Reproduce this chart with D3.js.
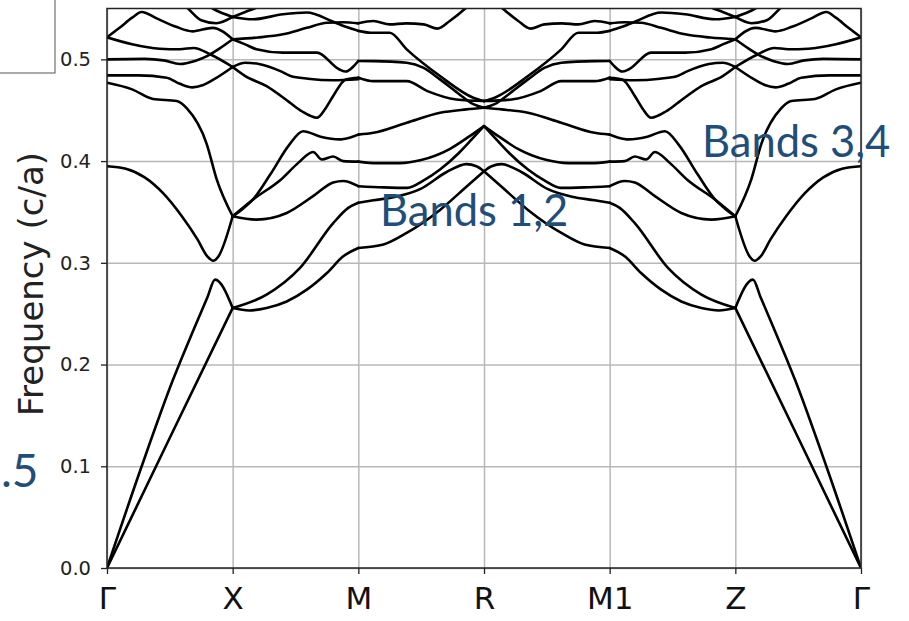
<!DOCTYPE html>
<html><head><meta charset="utf-8">
<script src="https://cdn.jsdelivr.net/npm/d3@7"></script>
<style>body{margin:0;background:#fff;overflow:hidden}</style>
</head><body>
<svg id="chart" width="909" height="621"></svg>
<script>
// k-path labels (equal spacing between high-symmetry points)
const kLabels = ["Γ", "X", "M", "R", "M1", "Z", "Γ"];
const freqTicks = [0.0, 0.1, 0.2, 0.3, 0.4, 0.5];

// Bands along Γ→X→M→R as [k, frequency (c/a)] pairs, k in segment units.
// The path R→M1→Z→Γ retraces the same directions, so it mirrors about R.
const band1 = [[0,0],[0.5,0.128],[1,0.2556],[1.27,0.2687],[1.536,0.295],[1.8,0.339],[1.92,0.354],[2,0.359],[2.12,0.3615],[2.3,0.365],[2.5,0.373],[2.7,0.389],[2.86,0.397],[2.94,0.395],[3,0.39]];
const band2 = [[0,0],[0.276,0.1],[0.525,0.185],[0.7,0.2375],[0.8,0.2665],[0.86,0.2835],[1,0.2556],[1.13,0.2532],[1.27,0.2556],[1.43,0.262],[1.59,0.2736],[1.75,0.29],[1.88,0.3064],[2,0.3146],[2.2,0.318],[2.385,0.3294],[2.65,0.352],[2.862,0.375],[3,0.39]];
const band3 = [[0,0.395],[0.15,0.3925],[0.3,0.384],[0.45,0.368],[0.6,0.345],[0.72,0.323],[0.8,0.306],[0.845,0.302],[0.885,0.306],[1,0.3458],[1.19,0.3425],[1.43,0.349],[1.64,0.3655],[1.8,0.379],[1.88,0.3805],[2,0.3753],[2.2,0.3742],[2.39,0.3737],[2.52,0.381],[2.65,0.3917],[2.8,0.408],[2.9,0.421],[3,0.4344]];
const band4 = [[0,0.477],[0.2,0.4705],[0.366,0.461],[0.555,0.459],[0.634,0.452],[0.793,0.417],[0.873,0.382],[1,0.3458],[1.16,0.362],[1.385,0.382],[1.52,0.398],[1.64,0.409],[1.71,0.4015],[1.8,0.4045],[1.88,0.4],[2,0.3995],[2.15,0.398],[2.33,0.398],[2.5,0.401],[2.73,0.412],[2.88,0.424],[3,0.4344]];
const band5 = [[1,0.3458],[1.08,0.353],[1.16,0.362],[1.3,0.387],[1.45,0.416],[1.56,0.4294],[1.7,0.424],[1.85,0.4213],[1.93,0.423],[2,0.426],[2.12,0.4278],[2.385,0.4377],[2.65,0.4475],[2.86,0.4508],[3,0.4524]];
const band6 = [[0,0.4843],[0.25,0.4843],[0.475,0.482],[0.58,0.476],[0.68,0.4725],[0.76,0.4745],[0.846,0.48],[1,0.4925],[1.1,0.4836],[1.27,0.4737],[1.45,0.458],[1.55,0.449],[1.67,0.4426],[1.74,0.452],[1.8,0.464],[1.9,0.4803],[2,0.482],[2.12,0.4786],[2.385,0.4786],[2.55,0.4688],[2.78,0.4606],[3,0.459]];
const band7 = [[0,0.5217],[0.2,0.5148],[0.42,0.5105],[0.58,0.51],[0.69,0.5112],[0.82,0.505],[1,0.4925],[1.1,0.4966],[1.21,0.4955],[1.38,0.4884],[1.46,0.4836],[1.6,0.481],[1.8,0.4795],[2,0.4805]];
const band8 = [[0,0.5],[0.3,0.5005],[0.45,0.499],[0.58,0.4955],[0.7,0.4985],[0.8,0.5035],[0.9,0.511],[1,0.5197],[1.1,0.5147],[1.19,0.51],[1.4,0.5066],[1.67,0.5066],[1.85,0.49],[1.9,0.488],[1.96,0.493],[2,0.4984],[2.12,0.4983],[2.385,0.4967],[2.52,0.4917],[2.65,0.4803],[2.79,0.467],[2.92,0.4557],[3,0.4524]];
const band9 = [[0,0.5217],[0.1,0.531],[0.2,0.541],[0.275,0.5466],[0.4,0.54],[0.55,0.532],[0.68,0.5275],[0.84,0.531],[1,0.5197],[1.2,0.5215],[1.4,0.5246],[1.59,0.531],[1.75,0.536],[1.88,0.5365],[2,0.5354],[2.12,0.5377],[2.25,0.5344],[2.38,0.5354],[2.52,0.5344],[2.63,0.5302],[2.73,0.538],[2.86,0.551],[2.92,0.558]];
const band10 = [[0.6,0.555],[0.645,0.55],[0.75,0.5385],[0.87,0.5355],[1,0.5417],[1.1,0.5466],[1.19,0.551],[1.26,0.556]];
const band11 = [[0.8,0.553],[0.845,0.5497],[1,0.5417],[1.16,0.5394],[1.4,0.5443],[1.59,0.546],[1.8,0.537],[1.9,0.532],[2,0.528],[2.1,0.5262],[2.25,0.5262],[2.385,0.5098],[2.65,0.4836],[2.915,0.4623],[3,0.459]];

const halfBands = [band1, band2, band3, band4, band5, band6, band7, band8, band9, band10, band11];

const svg = d3.select("#chart");
svg.append("rect").attr("width", 909).attr("height", 621).attr("fill", "#fff");

const plot = {left: 107, right: 861, top: 8.5, bottom: 568};
const x = d3.scaleLinear().domain([0, 6]).range([plot.left, plot.right]);
const y = d3.scaleLinear().domain([0, 0.55]).range([plot.bottom, plot.top]);

svg.append("defs").append("clipPath").attr("id", "plotClip")
  .append("rect").attr("x", plot.left).attr("y", plot.top)
  .attr("width", plot.right - plot.left).attr("height", plot.bottom - plot.top);

// grid
const grid = svg.append("g");
grid.append("g").attr("transform", `translate(${plot.left},0)`)
  .call(d3.axisLeft(y).tickValues(freqTicks).tickSize(-(plot.right - plot.left)).tickFormat(""))
  .call(g => g.select(".domain").remove())
  .call(g => g.selectAll("line").attr("stroke", "#b8b8b8").attr("stroke-width", 1.5));
grid.append("g").attr("transform", `translate(0,${plot.bottom})`)
  .call(d3.axisBottom(x).tickValues(d3.range(7)).tickSize(-(plot.bottom - plot.top)).tickFormat(""))
  .call(g => g.select(".domain").remove())
  .call(g => g.selectAll("line").attr("stroke", "#b8b8b8").attr("stroke-width", 1.5));

// bands, drawn segment by segment so the kinks at symmetry points stay sharp
const fullBands = halfBands.map(b => b.concat(b.filter(p => p[0] < 3).map(p => [6 - p[0], p[1]]).reverse()));
const line = d3.line().x(p => x(p[0])).y(p => y(p[1])).curve(d3.curveMonotoneX);
const bandsG = svg.append("g").attr("clip-path", "url(#plotClip)");
fullBands.forEach(b => {
  for (let k = 0; k < 6; k++) {
    const pts = b.filter(p => p[0] >= k - 1e-9 && p[0] <= k + 1 + 1e-9);
    if (pts.length < 2) continue;
    bandsG.append("path").attr("d", line(pts))
      .attr("fill", "none").attr("stroke", "#000").attr("stroke-width", 2.6)
      .attr("stroke-linejoin", "round").attr("stroke-linecap", "round");
  }
});

// axes frame and ticks
const yAxis = svg.append("g").attr("transform", `translate(${plot.left},0)`)
  .call(d3.axisLeft(y).tickValues(freqTicks).tickFormat(d3.format(".1f")).tickSize(6).tickPadding(10));
const xAxis = svg.append("g").attr("transform", `translate(0,${plot.bottom})`)
  .call(d3.axisBottom(x).tickValues(d3.range(7)).tickFormat(i => kLabels[i]).tickSize(6).tickPadding(13));
[yAxis, xAxis].forEach(a => {
  a.select(".domain").remove();
  a.selectAll("line").attr("stroke", "#222").attr("stroke-width", 1.3);
});
yAxis.selectAll("text").attr("font-family", "DejaVu Sans").attr("font-size", 19.5).attr("fill", "#222");
xAxis.selectAll("text").attr("font-family", "DejaVu Sans").attr("font-size", 31).attr("fill", "#111");

svg.append("rect").attr("x", plot.left).attr("y", plot.top)
  .attr("width", plot.right - plot.left).attr("height", plot.bottom - plot.top)
  .attr("fill", "none").attr("stroke", "#222").attr("stroke-width", 1.5);

svg.append("text")
  .attr("transform", `translate(43,284) rotate(-90)`)
  .attr("text-anchor", "middle").attr("font-family", "DejaVu Sans").attr("font-size", 34).attr("fill", "#222")
  .text("Frequency (c/a)");

// slide annotations
const note = "#1f4e79";
svg.append("text").attr("x", 380).attr("y", 226).attr("font-family", "Lato").attr("font-size", 43.5)
  .attr("fill", note).text("Bands 1,2");
svg.append("text").attr("x", 702).attr("y", 157).attr("font-family", "Lato").attr("font-size", 43.5)
  .attr("fill", note).text("Bands 3,4");
svg.append("text").attr("x", 1).attr("y", 487).attr("font-family", "Lato").attr("font-size", 46)
  .attr("fill", note).text(".5");
svg.append("rect").attr("x", -2).attr("y", -2).attr("width", 57).attr("height", 75)
  .attr("fill", "none").attr("stroke", "#555").attr("stroke-width", 1);
</script>
</body></html>
